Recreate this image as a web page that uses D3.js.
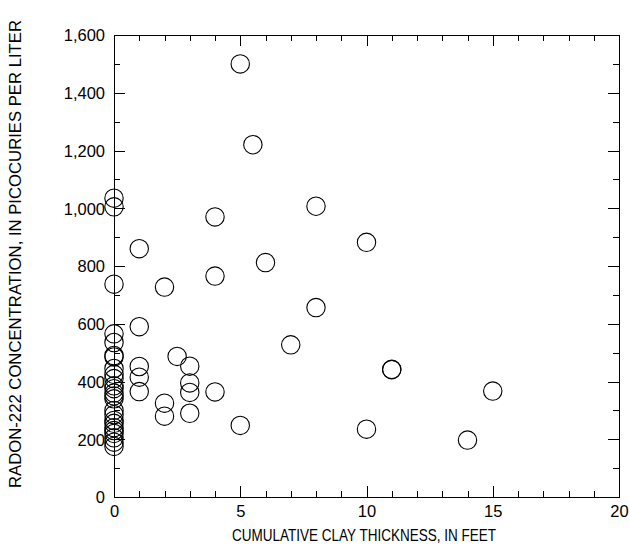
<!DOCTYPE html>
<html>
<head>
<meta charset="utf-8">
<script src="https://cdn.jsdelivr.net/npm/d3@7"></script>
<style>
  body { margin: 0; background: #fff; }
  text { font-family: "Liberation Sans", Arial, sans-serif; fill: #000; }
</style>
</head>
<body>
<div id="chart"></div>
<script>
// cumulative clay thickness (feet) and radon-222 (pCi/L), one entry per well
var clayThickness = [
  0, 0, 0, 0, 0, 0, 0, 0, 0, 0, 0, 0, 0, 0, 0, 0, 0, 0, 0, 0, 0, 0, 0, 0, 0,
  1, 1, 1, 1, 1,
  2, 2, 2,
  2.5,
  3, 3, 3, 3,
  4, 4, 4,
  5, 5,
  5.5,
  6,
  7,
  8, 8,
  10, 10,
  11, 11,
  14,
  15
]
var radon = [
  1035, 1005, 737, 565, 535, 490, 485, 445, 425, 410, 385, 375, 360, 350, 340, 300, 285, 265, 255, 240, 230, 220, 205, 190, 175,
  860, 590, 452, 415, 365,
  727, 325, 280,
  487,
  453, 395, 362, 290,
  970, 765, 364,
  1500, 248,
  1220,
  812,
  527,
  1007, 656,
  882, 235,
  441, 442,
  197,
  367
]

var xMajor = [0, 5, 10, 15, 20]
var yMajor = [0, 200, 400, 600, 800, 1000, 1200, 1400, 1600]

var xTitle = "CUMULATIVE CLAY THICKNESS, IN FEET"
var yTitle = "RADON-222 CONCENTRATION, IN PICOCURIES PER LITER"

document.addEventListener("DOMContentLoaded", function() {
  draw()
});

function draw(){
  var width = 630, height = 548
  var left = 114, right = 619, top = 35, bottom = 497

  var x = d3.scaleLinear().domain([0, 20]).range([left, right])
  var y = d3.scaleLinear().domain([0, 1600]).range([bottom, top])

  var xMinor = d3.range(0, 21, 1).filter(function(d){ return d % 5 != 0 })
  var yMinor = d3.range(0, 1601, 100).filter(function(d){ return d % 200 != 0 })

  var svg = d3.select("#chart").append("svg")
    .attr("width", width)
    .attr("height", height)

  var fmt = d3.format(",")
  var major = 11, minor = 6

  // four sides, ticks pointing inward
  function addAxis(axis, tx, ty, labels){
    var g = svg.append("g")
      .attr("transform", "translate(" + tx + "," + ty + ")")
      .call(axis)
    g.selectAll("path, line").attr("stroke", "#000").attr("shape-rendering", "crispEdges")
    if (!labels) g.selectAll("text").remove()
    return g
  }

  var gl = addAxis(d3.axisLeft(y).tickValues(yMajor).tickSize(-major).tickSizeOuter(0).tickFormat(fmt), left, 0, true)
  addAxis(d3.axisLeft(y).tickValues(yMinor).tickSize(-minor).tickSizeOuter(0), left, 0, false)
  addAxis(d3.axisRight(y).tickValues(yMajor).tickSize(-major).tickSizeOuter(0), right, 0, false)
  addAxis(d3.axisRight(y).tickValues(yMinor).tickSize(-minor).tickSizeOuter(0), right, 0, false)

  var gb = addAxis(d3.axisBottom(x).tickValues(xMajor).tickSize(-major).tickSizeOuter(0), 0, bottom, true)
  addAxis(d3.axisBottom(x).tickValues(xMinor).tickSize(-minor).tickSizeOuter(0), 0, bottom, false)
  addAxis(d3.axisTop(x).tickValues(xMajor).tickSize(-major).tickSizeOuter(0), 0, top, false)
  addAxis(d3.axisTop(x).tickValues(xMinor).tickSize(-minor).tickSizeOuter(0), 0, top, false)

  gl.selectAll("text").attr("font-size", 16.5).attr("x", -9).attr("dy", "0.35em")
  gb.selectAll("text").attr("font-size", 16.5).attr("y", 7).attr("dy", "0.8em")

  // the x title is set in a condensed face in the original
  svg.append("text")
    .attr("x", 232)
    .attr("y", 541)
    .attr("font-size", 16.5)
    .attr("textLength", 264)
    .attr("lengthAdjust", "spacingAndGlyphs")
    .text(xTitle)

  svg.append("text")
    .attr("transform", "translate(21," + 254 + ") rotate(-90)")
    .attr("text-anchor", "middle")
    .attr("font-size", 16.7)
    .text(yTitle)

  var points = clayThickness.map(function(d, i){ return {x: d, v: radon[i]} })

  svg.append("g").selectAll("circle")
    .data(points)
    .enter()
    .append("circle")
      .attr("cx", function(d){ return x(d.x) })
      .attr("cy", function(d){ return y(d.v) })
      .attr("r", 9.2)
      .attr("fill", "none")
      .attr("stroke", "#000")
      .attr("stroke-width", 1.1)
}
</script>
</body>
</html>
